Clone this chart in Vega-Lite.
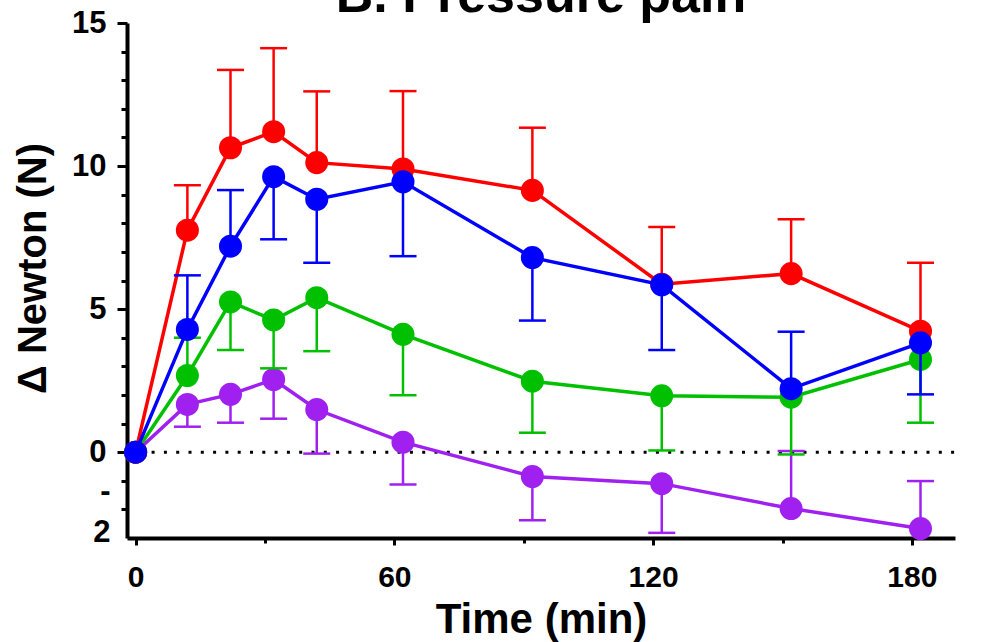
{
  "$schema": "https://vega.github.io/schema/vega-lite/v6.json",
  "width": 828,
  "height": 515,
  "autosize": {"type": "none"},
  "padding": {"left": 127, "top": 23, "right": 45, "bottom": 104},
  "background": "white",
  "config": {"view": {"stroke": null}, "font": "Liberation Sans"},
  "title": {
    "text": "B. Pressure pain",
    "font": "Liberation Sans",
    "fontSize": 52,
    "fontWeight": "bold",
    "color": "black",
    "anchor": "middle",
    "baseline": "alphabetic",
    "offset": -57
  },
  "datasets": {
    "d": [
      {"s": "purple", "t": 0, "v": 0, "err": null},
      {"s": "purple", "t": 12, "v": 1.67, "err": 0.89},
      {"s": "purple", "t": 22, "v": 2.02, "err": 1.03},
      {"s": "purple", "t": 32, "v": 2.54, "err": 1.17},
      {"s": "purple", "t": 42, "v": 1.49, "err": -0.05},
      {"s": "purple", "t": 62, "v": 0.35, "err": -1.13},
      {"s": "purple", "t": 92, "v": -0.85, "err": -2.38},
      {"s": "purple", "t": 122, "v": -1.1, "err": -2.82},
      {"s": "purple", "t": 152, "v": -1.97, "err": 0.04},
      {"s": "purple", "t": 182, "v": -2.67, "err": -1.01},
      {"s": "green", "t": 0, "v": 0, "err": null},
      {"s": "green", "t": 12, "v": 2.68, "err": 4.0},
      {"s": "green", "t": 22, "v": 5.25, "err": 3.57},
      {"s": "green", "t": 32, "v": 4.62, "err": 2.93},
      {"s": "green", "t": 42, "v": 5.4, "err": 3.53},
      {"s": "green", "t": 62, "v": 4.12, "err": 1.99},
      {"s": "green", "t": 92, "v": 2.48, "err": 0.68},
      {"s": "green", "t": 122, "v": 1.97, "err": 0.06},
      {"s": "green", "t": 152, "v": 1.92, "err": -0.08},
      {"s": "green", "t": 182, "v": 3.24, "err": 1.03},
      {"s": "red", "t": 0, "v": 0, "err": null},
      {"s": "red", "t": 12, "v": 7.76, "err": 9.33},
      {"s": "red", "t": 22, "v": 10.64, "err": 13.36},
      {"s": "red", "t": 32, "v": 11.2, "err": 14.12},
      {"s": "red", "t": 42, "v": 10.12, "err": 12.61},
      {"s": "red", "t": 62, "v": 9.9, "err": 12.62},
      {"s": "red", "t": 92, "v": 9.15, "err": 11.34},
      {"s": "red", "t": 122, "v": 5.87, "err": 7.87},
      {"s": "red", "t": 152, "v": 6.24, "err": 8.14},
      {"s": "red", "t": 182, "v": 4.23, "err": 6.62},
      {"s": "blue", "t": 0, "v": 0, "err": null},
      {"s": "blue", "t": 12, "v": 4.29, "err": 6.18},
      {"s": "blue", "t": 22, "v": 7.2, "err": 9.16},
      {"s": "blue", "t": 32, "v": 9.63, "err": 7.44},
      {"s": "blue", "t": 42, "v": 8.84, "err": 6.62},
      {"s": "blue", "t": 62, "v": 9.45, "err": 6.85},
      {"s": "blue", "t": 92, "v": 6.8, "err": 4.6},
      {"s": "blue", "t": 122, "v": 5.85, "err": 3.57},
      {"s": "blue", "t": 152, "v": 2.22, "err": 4.21},
      {"s": "blue", "t": 182, "v": 3.82, "err": 2.02}
    ]
  },
  "data": {"name": "d"},
  "encoding": {
    "x": {
      "field": "t",
      "type": "quantitative",
      "scale": {"domain": [-2, 190], "nice": false, "zero": false},
      "axis": {
        "values": [0, 30, 60, 90, 120, 150, 180],
        "labelExpr": "datum.value % 60 == 0 ? datum.label : ''",
        "labelOverlap": false,
        "labelFlush": false,
        "labelBound": false,
        "labelFont": "Liberation Sans",
        "labelFontSize": 30,
        "labelFontWeight": "bold",
        "labelColor": "black",
        "labelPadding": 17,
        "domainColor": "black",
        "domainWidth": 4,
        "tickColor": "black",
        "tickWidth": 3,
        "tickSize": {"condition": {"test": "datum.value % 60 == 0", "value": 7}, "value": 5},
        "grid": false,
        "title": "Time (min)",
        "titleFont": "Liberation Sans",
        "titleFontSize": 42,
        "titleFontWeight": "bold",
        "titleColor": "black",
        "titleBaseline": "alphabetic",
        "titleY": 94
      }
    },
    "y": {
      "field": "v",
      "type": "quantitative",
      "scale": {"domain": [-3, 15], "nice": false, "zero": false},
      "axis": {
        "values": [-2, -1, 0, 1, 2, 3, 4, 5, 6, 7, 8, 9, 10, 11, 12, 13, 14, 15],
        "labelExpr": "datum.value % 5 == 0 ? datum.label : (datum.value == -2 ? ['-', '2'] : '')",
        "labelLineHeight": 41,
        "labelOffset": {"condition": {"test": "datum.value == -2", "value": -18}, "value": 0},
        "labelOverlap": false,
        "labelFlush": false,
        "labelBound": false,
        "labelFont": "Liberation Sans",
        "labelFontSize": 31,
        "labelFontWeight": "bold",
        "labelColor": "black",
        "labelPadding": 11,
        "domainColor": "black",
        "domainWidth": 4,
        "tickColor": "black",
        "tickWidth": 3,
        "tickSize": {"condition": {"test": "datum.value % 5 == 0", "value": 10}, "value": 6},
        "grid": false,
        "title": "Δ Newton (N)",
        "titleFont": "Liberation Sans",
        "titleFontSize": 40,
        "titleFontWeight": "bold",
        "titleColor": "black",
        "titleAngle": 270,
        "titleAlign": "center",
        "titleBaseline": "alphabetic",
        "titleX": -82,
        "titleY": 245
      }
    }
  },
  "layer": [
    {
      "transform": [{"filter": "datum.t == 0 && datum.s == 'blue'"}],
      "mark": {"type": "rule", "color": "black", "strokeWidth": 3, "strokeDash": [3, 9.3]},
      "encoding": {"x": {"datum": -2}, "x2": {"datum": 190}, "y": {"datum": 0}}
    },
    {
      "transform": [{"filter": "datum.s == 'purple'"}],
      "layer": [
        {"transform": [{"filter": "isValid(datum.err)"}], "mark": {"type": "rule", "color": "#A020F0", "strokeWidth": 2.5}, "encoding": {"y2": {"field": "err"}}},
        {"transform": [{"filter": "isValid(datum.err)"}], "mark": {"type": "tick", "orient": "horizontal", "color": "#A020F0", "size": 27, "thickness": 2.5, "opacity": 1}, "encoding": {"y": {"field": "err", "type": "quantitative"}}},
        {"mark": {"type": "line", "color": "#A020F0", "strokeWidth": 3.5}, "encoding": {}},
        {"mark": {"type": "point", "filled": true, "opacity": 1, "size": 530, "color": "#A020F0"}, "encoding": {}}
      ]
    },
    {
      "transform": [{"filter": "datum.s == 'green'"}],
      "layer": [
        {"transform": [{"filter": "isValid(datum.err)"}], "mark": {"type": "rule", "color": "#00C000", "strokeWidth": 2.5}, "encoding": {"y2": {"field": "err"}}},
        {"transform": [{"filter": "isValid(datum.err)"}], "mark": {"type": "tick", "orient": "horizontal", "color": "#00C000", "size": 27, "thickness": 2.5, "opacity": 1}, "encoding": {"y": {"field": "err", "type": "quantitative"}}},
        {"mark": {"type": "line", "color": "#00C000", "strokeWidth": 3.5}, "encoding": {}},
        {"mark": {"type": "point", "filled": true, "opacity": 1, "size": 530, "color": "#00C000"}, "encoding": {}}
      ]
    },
    {
      "transform": [{"filter": "datum.s == 'red'"}],
      "layer": [
        {"transform": [{"filter": "isValid(datum.err)"}], "mark": {"type": "rule", "color": "#FF0000", "strokeWidth": 2.5}, "encoding": {"y2": {"field": "err"}}},
        {"transform": [{"filter": "isValid(datum.err)"}], "mark": {"type": "tick", "orient": "horizontal", "color": "#FF0000", "size": 27, "thickness": 2.5, "opacity": 1}, "encoding": {"y": {"field": "err", "type": "quantitative"}}},
        {"mark": {"type": "line", "color": "#FF0000", "strokeWidth": 3.5}, "encoding": {}},
        {"mark": {"type": "point", "filled": true, "opacity": 1, "size": 530, "color": "#FF0000"}, "encoding": {}}
      ]
    },
    {
      "transform": [{"filter": "datum.s == 'blue'"}],
      "layer": [
        {"transform": [{"filter": "isValid(datum.err)"}], "mark": {"type": "rule", "color": "#0000FF", "strokeWidth": 2.5}, "encoding": {"y2": {"field": "err"}}},
        {"transform": [{"filter": "isValid(datum.err)"}], "mark": {"type": "tick", "orient": "horizontal", "color": "#0000FF", "size": 27, "thickness": 2.5, "opacity": 1}, "encoding": {"y": {"field": "err", "type": "quantitative"}}},
        {"mark": {"type": "line", "color": "#0000FF", "strokeWidth": 3.5}, "encoding": {}},
        {"mark": {"type": "point", "filled": true, "opacity": 1, "size": 530, "color": "#0000FF"}, "encoding": {}}
      ]
    }
  ]
}
